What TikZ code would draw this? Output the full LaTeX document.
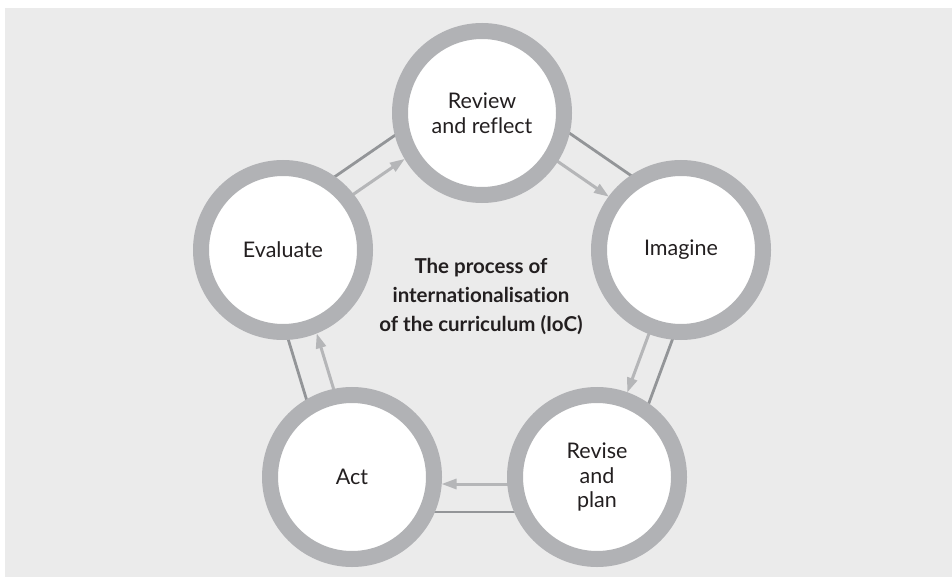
\documentclass[tikz,border=0pt]{standalone}
\usepackage{fontspec}
\setmainfont{Lato}[Ligatures=NoCommon]
\usetikzlibrary{calc,arrows.meta,backgrounds}
\definecolor{bgfill}{HTML}{EBEBEB}
\definecolor{ringcol}{HTML}{B1B2B5}
\definecolor{darkline}{HTML}{939598}
\definecolor{arrowline}{HTML}{B5B6B8}
\definecolor{txt}{HTML}{231F20}
\newcommand\cyclelink[4]{%
  \draw[outerline] ($(#1.center)!#3!90:(#2.center)$) -- ($(#2.center)!#3!-90:(#1.center)$);
  \draw[flowarrow] ($(#1.center)!#4!90:(#2.center)$) -- ($(#2.center)!#4!-90:(#1.center)$);
}
\begin{document}
\begin{tikzpicture}[x=1pt,y=-1pt,
  stage/.style={circle, draw=ringcol, line width=16pt, fill=white, minimum size=164pt,
    inner sep=0pt, align=center, font=\fontsize{21.5}{24.5}\selectfont, text=txt},
  outerline/.style={draw=darkline, line width=2.8pt},
  flowarrow/.style={draw=arrowline, line width=3pt, shorten <=89.5pt, shorten >=89.5pt,
    -{Triangle[length=15pt,width=10pt]}},
  title/.style={align=center, font=\bfseries\fontsize{20.5}{29}\selectfont, text=txt},
]
\useasboundingbox (0,0) rectangle (952,577);
\node[stage] (rv) at (482,113) {Review\\and reflect};
\node[stage] (im) at (681,250) {Imagine};
\node[stage] (rp) at (597,477) {Revise\\and\\plan};
\node[stage] (ac) at (352,477) {Act};
\node[stage] (ev) at (283,250) {Evaluate};
\node[title] (ttl) at (481,297) {The process of\\internationalisation\\of the curriculum (IoC)};
\begin{pgfonlayer}{background}
\fill[bgfill] (5,8) rectangle (952,577);
\cyclelink{ev}{rv}{31pt}{6pt}
\cyclelink{rv}{im}{33pt}{3pt}
\cyclelink{im}{rp}{23pt}{-1pt}
\cyclelink{rp}{ac}{35pt}{7pt}
\cyclelink{ac}{ev}{21pt}{-8pt}
\end{pgfonlayer}
\end{tikzpicture}
\end{document}
